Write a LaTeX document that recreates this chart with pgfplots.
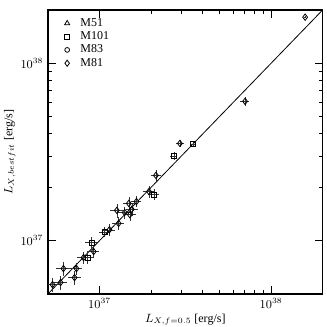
\documentclass[border=0pt]{standalone}
\usepackage{fontspec}
\setmainfont{Liberation Serif}
\usepackage{pgfplots}
\pgfplotsset{compat=1.18}
\begin{document}
\begin{tikzpicture}
\begin{axis}[
    width=206pt, height=213pt,
    scale only axis,
    xmode=log, ymode=log,
    xmin=5e36, xmax=2e38,
    ymin=5e36, ymax=2e38,
    xtick={1e37,1e38}, ytick={1e37,1e38},
    tick align=inside,
    major tick length=6pt, minor tick length=3pt,
    axis line style={line width=1.1pt},
    every tick/.style={black, line width=0.6pt},
    tick label style={font=\small},
    label style={font=\small},
    xlabel={$L_{X,f=0.5}$ [erg/s]},
    ylabel={$L_{X,best fit}$ [erg/s]},
    xlabel style={yshift=3pt},
    ylabel style={yshift=-3pt},
    legend style={draw=none, fill=none, at={(0.045,0.99)}, anchor=north west,
        font=\small, row sep=-1.5pt,
        /tikz/every odd column/.append style={column sep=6pt}},
    legend cell align=left,
    error bars/error mark=none,
    error bars/error bar style={black!80, line width=0.4pt},
]
\coordinate (bl) at (rel axis cs:-0.1745,-0.1162);
\coordinate (tr) at (rel axis cs:1.0145,1.0352);
\addlegendimage{only marks, mark=triangle, mark size=2.2pt, black, mark options={line width=0.6pt}}
\addlegendentry{M51}
\addlegendimage{only marks, mark=square, mark size=1.8pt, black, mark options={line width=0.6pt}}
\addlegendentry{M101}
\addlegendimage{only marks, mark=o, mark size=1.8pt, black, mark options={line width=0.6pt}}
\addlegendentry{M83}
\addlegendimage{only marks, mark=diamond, mark size=2.3pt, black, mark options={line width=0.6pt}}
\addlegendentry{M81}

% y = x line
\addplot[black, line width=0.6pt, forget plot] coordinates {(5e36,5e36) (2e38,2e38)};

% M101
\addplot[black, only marks, mark=square, mark size=1.9pt, mark options={fill=white, line width=0.6pt}, forget plot,
    error bars/.cd, x dir=both, y dir=both, x explicit relative, y explicit relative]
    coordinates {
    (8.51e36,8.02e36) +- (0.08,0.08)
    (8.98e36,9.75e36) +- (0.08,0.08)
    (1.07e37,1.12e37) +- (0.07,0.07)
    (2.07e37,1.82e37) +- (0.07,0.07)
    (2.71e37,2.99e37) +- (0.05,0.05)
    (3.50e37,3.49e37) +- (0.04,0.04)
    };

% M81
\addplot[black, only marks, mark=diamond, mark size=2.4pt, mark options={fill=white, line width=0.6pt}, forget plot,
    error bars/.cd, x dir=both, y dir=both, x explicit relative, y explicit relative]
    coordinates {
    (5.31e36,5.64e36) +- (0.09,0.09)
    (5.92e36,5.80e36) +- (0.09,0.09)
    (6.15e36,6.95e36) +- (0.09,0.09)
    (7.14e36,6.18e36) +- (0.09,0.09)
    (7.33e36,6.95e36) +- (0.08,0.08)
    (8.06e36,8.02e36) +- (0.08,0.08)
    (9.23e36,8.67e36) +- (0.08,0.08)
    (1.14e37,1.15e37) +- (0.08,0.08)
    (1.29e37,1.25e37) +- (0.08,0.08)
    (1.26e37,1.48e37) +- (0.09,0.09)
    (1.40e37,1.44e37) +- (0.08,0.08)
    (1.48e37,1.62e37) +- (0.08,0.08)
    (1.50e37,1.40e37) +- (0.08,0.08)
    (1.54e37,1.50e37) +- (0.08,0.08)
    (1.64e37,1.66e37) +- (0.07,0.07)
    (1.94e37,1.89e37) +- (0.08,0.08)
    (2.13e37,2.33e37) +- (0.07,0.07)
    (2.94e37,3.53e37) +- (0.05,0.05)
    (7.05e37,6.10e37) +- (0.06,0.06)
    (1.58e38,1.82e38) +- (0.01,0.01)
    };
\end{axis}
\pgfresetboundingbox
\path (bl) rectangle (tr);
\end{tikzpicture}
\end{document}
